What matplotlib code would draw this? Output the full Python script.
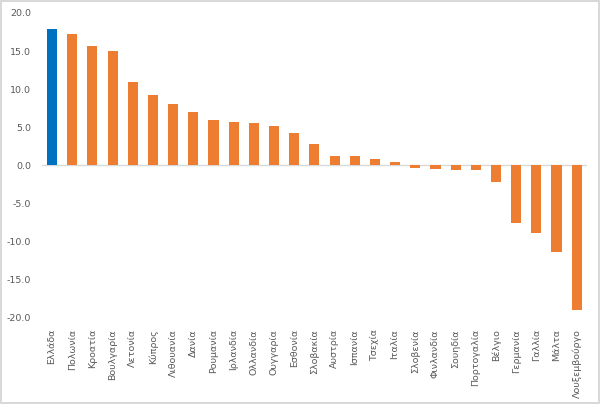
import numpy as np
import matplotlib.pyplot as plt

countries = ['Ελλάδα', 'Πολωνία', 'Κροατία', 'Βουλγαρία', 'Λετονία', 'Κύπρος',
             'Λιθουανία', 'Δανία', 'Ρουμανία', 'Ιρλανδία', 'Ολλανδία', 'Ουγγαρία',
             'Εσθονία', 'Σλοβακία', 'Αυστρία', 'Ισπανία', 'Τσεχία', 'Ιταλία',
             'Σλοβενία', 'Φινλανδία', 'Σουηδία', 'Πορτογαλία', 'Βέλγιο',
             'Γερμανία', 'Γαλλία', 'Μάλτα', 'Λουξεμβούργο']
values = [17.9, 17.2, 15.7, 15.0, 10.9, 9.2, 8.1, 7.0, 6.0, 5.7, 5.6, 5.2,
          4.2, 2.8, 1.3, 1.2, 0.85, 0.4, -0.35, -0.45, -0.55, -0.65, -2.2,
          -7.6, -8.9, -11.4, -19.0]
highlight = 'Ελλάδα'

blue = '#0070C0'
orange = '#ED7D31'
grey = '#595959'

fig = plt.figure(figsize=(6, 4.04), dpi=100, edgecolor='#d9d9d9', linewidth=1.5)
ax = fig.add_axes([0.07, 0.213, 0.908, 0.755])

x = np.arange(len(countries))
colors = [blue if c == highlight else orange for c in countries]
ax.bar(x, values, width=0.5, color=colors, zorder=2)
ax.axhline(0, color='#d9d9d9', linewidth=1, zorder=1)

ax.set_xlim(-0.5, len(countries) - 0.5)
ax.set_ylim(-20, 20)
ax.set_yticks(np.arange(-20, 21, 5))
ax.set_yticklabels([f'{v:.1f}' for v in np.arange(-20, 21, 5)])
ax.set_xticks(x)
ax.set_xticklabels(countries, rotation=90)

for s in ax.spines.values():
    s.set_visible(False)
ax.tick_params(axis='both', length=0, colors=grey, labelsize=6.8)
ax.tick_params(axis='x', pad=8)
ax.tick_params(axis='y', pad=8)

fig.savefig('out.png', dpi=100)
